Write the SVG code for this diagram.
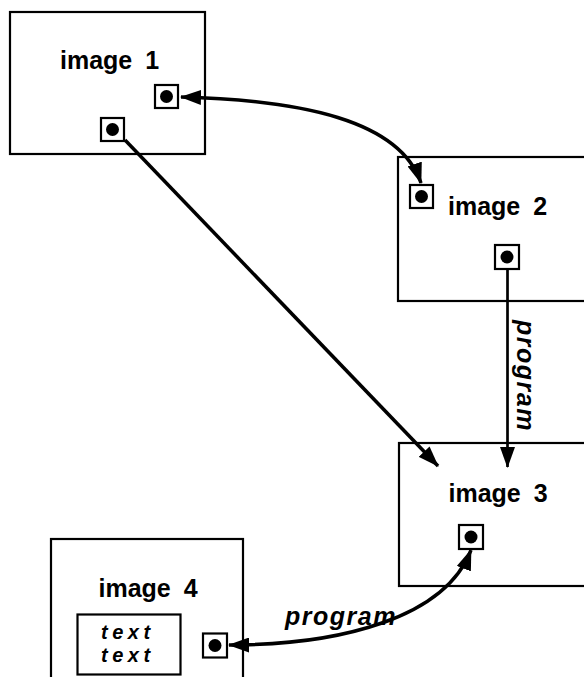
<svg xmlns="http://www.w3.org/2000/svg" width="584" height="677" viewBox="0 0 584 677">
<defs>
<style>
.box{fill:#fff;stroke:#000;stroke-width:2.2}
.port{fill:#fff;stroke:#000;stroke-width:2.2}
.dot{fill:#000}
.lbl{font-family:"Liberation Sans",Arial,sans-serif;font-weight:bold;font-size:25px;word-spacing:6px;fill:#000}
.prog{font-family:"Liberation Sans",Arial,sans-serif;font-weight:bold;font-style:italic;font-size:25px;letter-spacing:1.5px;fill:#000}
.txt{font-family:"Liberation Sans",Arial,sans-serif;font-weight:bold;font-style:italic;font-size:20px;letter-spacing:4.5px;fill:#000}
.con{fill:none;stroke:#000;stroke-width:3.5}
</style>
<marker id="ah" viewBox="0 0 21 15" markerUnits="userSpaceOnUse" markerWidth="21" markerHeight="15" refX="20" refY="7.5" orient="auto-start-reverse">
<path d="M0,0 L21,7.5 L0,15 Z" fill="#000"/>
</marker>
</defs>
<rect width="584" height="677" fill="#fff"/>

<g id="image1">
<rect class="box" x="10" y="12" width="195" height="142"/>
<text class="lbl" x="60" y="69">image 1</text>
<rect class="port" x="155" y="85" width="23" height="23"/>
<circle class="dot" cx="166.5" cy="96.5" r="6.5"/>
<rect class="port" x="101" y="118" width="23" height="23"/>
<circle class="dot" cx="112.5" cy="129.5" r="6.5"/>
</g>

<g id="image2">
<rect class="box" x="398" y="157" width="200" height="144"/>
<text class="lbl" x="448" y="214.5">image 2</text>
<rect class="port" x="410" y="185" width="23" height="23"/>
<circle class="dot" cx="421.5" cy="196.5" r="6.5"/>
<rect class="port" x="495" y="245" width="24" height="24"/>
<circle class="dot" cx="507" cy="257" r="6.5"/>
</g>

<g id="image3">
<rect class="box" x="399" y="443" width="200" height="143"/>
<text class="lbl" x="448.5" y="501.5">image 3</text>
<rect class="port" x="459" y="525" width="24" height="24"/>
<circle class="dot" cx="471" cy="537" r="6.5"/>
</g>

<g id="image4">
<rect class="box" x="51" y="539" width="192" height="150"/>
<text class="lbl" x="98.5" y="597">image 4</text>
<rect class="port" x="77.5" y="614.5" width="103" height="60"/>
<text class="txt" x="101" y="639">text</text>
<text class="txt" x="101" y="661.5">text</text>
<rect class="port" x="203" y="633.5" width="24" height="24"/>
<circle class="dot" cx="215" cy="645.5" r="6.5"/>
</g>

<g id="connectors">
<path class="con" d="M181,97 C300,100 400,120 421,183" marker-start="url(#ah)" marker-end="url(#ah)"/>
<path class="con" d="M125,140 L438,466" marker-end="url(#ah)"/>
<path class="con" style="stroke-width:2.7" d="M507.5,269 L507.5,467" marker-end="url(#ah)"/>
<path class="con" d="M229,645 C340,645 445,618 471,550" marker-start="url(#ah)" marker-end="url(#ah)"/>
<text class="prog" transform="translate(516.5,320) rotate(90)">program</text>
<text class="prog" x="285" y="625">program</text>
</g>
</svg>
